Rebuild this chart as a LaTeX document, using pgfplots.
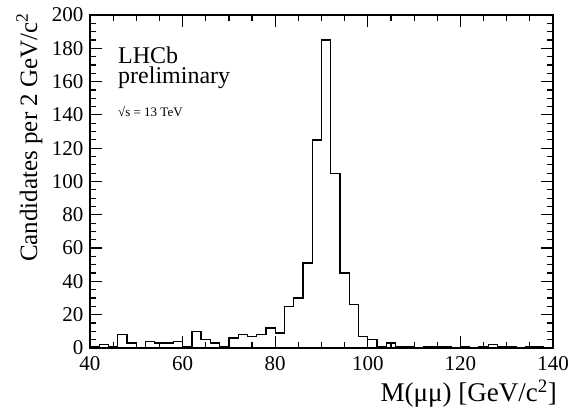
\documentclass[border=0pt]{standalone}
\usepackage{fontspec}
\setmainfont{Liberation Serif}
\usepackage{pgfplots}
\pgfplotsset{compat=1.18}
\begin{document}
\begin{tikzpicture}[x=1pt,y=1pt]
\begin{axis}[
  at={(90pt,64pt)}, anchor=south west,
  scale only axis, width=463pt, height=333pt,
  xmin=40, xmax=140, ymin=0, ymax=200,
  xtick={40,60,...,140}, ytick={0,20,...,200},
  minor x tick num=3, minor y tick num=3,
  tick align=inside, xtick pos=both, ytick pos=both,
  major tick length=12pt, minor tick length=6pt,
  axis line style={line width=1.5pt},
  every tick/.style={black, line width=1.2pt},
  tick label style={font=\fontsize{21}{21}\selectfont},
  /pgf/number format/assume math mode=true,
  xticklabel style={yshift=-5pt},
  yticklabel style={xshift=-3pt},
  clip=false,
]
\addplot[const plot, black, line width=1.3pt] coordinates {
(40,1) (42,2) (44,1) (46,8) (48,3) (50,0) (52,4) (54,3) (56,3) (58,4)
(60,1) (62,10) (64,5) (66,3) (68,1) (70,6) (72,8) (74,7) (76,8) (78,12)
(80,9) (82,25) (84,30) (86,51) (88,125) (90,185) (92,105) (94,45) (96,26) (98,7)
(100,5) (102,1) (104,3) (106,1) (108,1) (110,0) (112,1) (114,1) (116,1) (118,0)
(120,1) (122,0) (124,1) (126,2) (128,1) (130,1) (132,0) (134,1) (136,1) (138,0)
(140,0)
};
\end{axis}
\node[rotate=90, anchor=base east, inner sep=0pt, font=\fontsize{25}{25}\selectfont] at (37,399) {Candidates per 2 GeV/c\textsuperscript{2}};
\node[anchor=base east, inner sep=0pt, font=\fontsize{27}{27}\selectfont] at (557,10) {M(μμ) [GeV/c\textsuperscript{2}]};
\node[anchor=base west, font=\fontsize{24}{24}\selectfont, inner sep=0pt] at (118,348) {LHCb};
\node[anchor=base west, font=\fontsize{24}{24}\selectfont, inner sep=0pt] at (118,328) {preliminary};
\node[anchor=base west, font=\fontsize{13}{13}\selectfont, inner sep=0pt] at (118,295) {√s = 13 TeV};
\pgfresetboundingbox
\path (0,0) rectangle (571,412);
\end{tikzpicture}
\end{document}
